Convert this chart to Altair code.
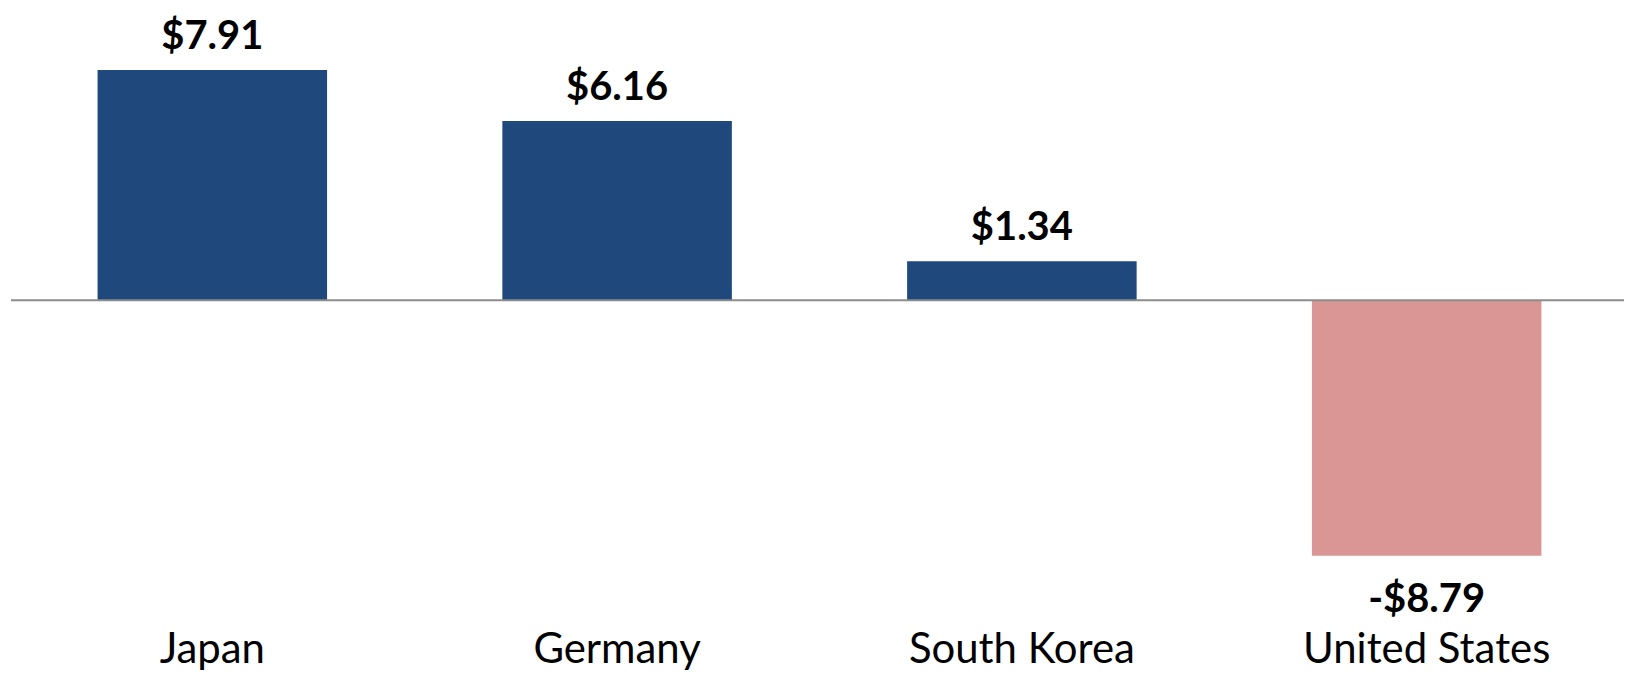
import altair as alt
import pandas as pd

countries = ["Japan", "Germany", "South Korea", "United States"]
values = [7.91, 6.16, 1.34, -8.79]
labels = ["$7.91", "$6.16", "$1.34", "-$8.79"]

df = pd.DataFrame({"country": countries, "value": values, "label": labels})
zero_df = pd.DataFrame({"zero": [0.0]})

FONT = "Lato"
BLUE = "#1F497D"
PINK = "#D99694"

yscale = alt.Scale(domain=[-10.8, 9.81], nice=False, zero=True)

x = alt.X("country:N", sort=countries, title=None,
          scale=alt.Scale(paddingInner=0.433, paddingOuter=0.204),
          axis=alt.Axis(domain=False, ticks=False, labelAngle=0, labelLimit=0,
                        labelFont=FONT, labelFontSize=42, labelColor="#000000",
                        labelBaseline="alphabetic", labelPadding=48, grid=False))
y = alt.Y("value:Q", title=None, scale=yscale, axis=None)

base = alt.Chart(df)

bars = base.mark_bar().encode(
    x=x, y=y,
    color=alt.condition(alt.datum.value < 0, alt.value(PINK), alt.value(BLUE)),
)

rule = alt.Chart(zero_df).mark_rule(color="#8C8C8C", strokeWidth=2).encode(
    y=alt.Y("zero:Q", scale=yscale, axis=None), x=alt.value(-4), x2=alt.value(1613)
)

pos_text = base.transform_filter(alt.datum.value >= 0).mark_text(
    font=FONT, fontSize=40, fontWeight="bold", color="#000000",
    baseline="alphabetic", dy=-21
).encode(x=alt.X("country:N", sort=countries), y=y, text="label:N")

neg_text = base.transform_filter(alt.datum.value < 0).mark_text(
    font=FONT, fontSize=40, fontWeight="bold", color="#000000",
    baseline="alphabetic", dy=56
).encode(x=alt.X("country:N", sort=countries), y=y, text="label:N")

chart = alt.layer(bars, pos_text, neg_text, rule).properties(
    width=1613, height=601,
    padding={"left": 7, "top": 6, "right": 0, "bottom": 60},
    autosize=alt.AutoSizeParams(type="none"),
    background="white",
).configure_view(stroke=None)

chart.save("out.html", embed_options={"renderer": "svg", "actions": False})
